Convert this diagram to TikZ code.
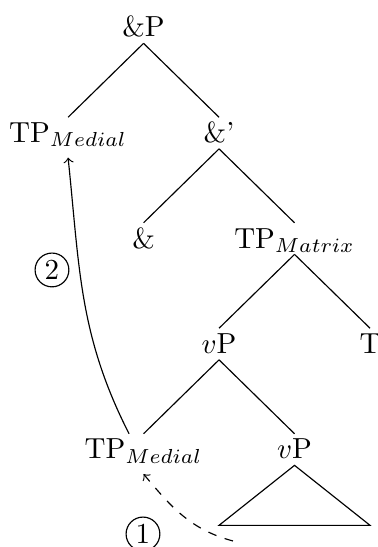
\documentclass[tikz,border=0pt]{standalone}
\usepackage{amsmath}
\usepackage{tikz}

\begin{document}
\begin{tikzpicture}[
    cat/.style = {inner sep = 0pt,
      text height = 8.5pt,
      text depth = 2pt,
      anchor = base},
    step num/.style = {circle,
      draw = black,
      inner sep = 1.2pt}
  ]
  \useasboundingbox (0,0) rectangle (4.581,-6.630);

  % the tree, one row per level
  \node[cat] (andP) at (1.740,-0.448) {\&P};

  \node[cat] (tpMed) at (0.825,-1.727) {TP$_{Medial}$};
  \node[cat] (andBar) at (2.655,-1.727) {\&'};

  \node[cat] (and) at (1.740,-3.006) {\&};
  \node[cat] (tpMat) at (3.570,-3.006) {TP$_{Matrix}$};

  \node[cat] (vPhi) at (2.655,-4.284) {$v$P};
  \node[cat] (T) at (4.485,-4.284) {T};

  \node[cat] (tpLow) at (1.740,-5.563) {TP$_{Medial}$};
  \node[cat] (vPlo) at (3.570,-5.563) {$v$P};

  % branches
  \draw (andP.south) -- (tpMed.north);
  \draw (andP.south) -- (andBar.north);
  \draw (andBar.south) -- (and.north);
  \draw (andBar.south) -- (tpMat.north);
  \draw (tpMat.south) -- (vPhi.north);
  \draw (tpMat.south) -- (T.north);
  \draw (vPhi.south) -- (tpLow.north);
  \draw (vPhi.south) -- (vPlo.north);

  % triangle under the low vP
  \draw (vPlo.south) -- ++(-0.915,-0.727) -- ++(1.830,0) -- cycle;

  % movement steps
  \coordinate (moveStart) at (2.824,-6.557);
  \draw[->, dashed] (moveStart) to[out=165, in=-50] ([yshift=-3pt]tpLow.south);
  \draw[->] ([xshift=-5pt]tpLow.north) to[out=117, in=-84] ([yshift=-3pt]tpMed.south);

  \node[step num] (one) at (1.733,-6.472) {1};
  \node[step num] (two) at (0.630,-3.272) {2};

\end{tikzpicture}
\end{document}
